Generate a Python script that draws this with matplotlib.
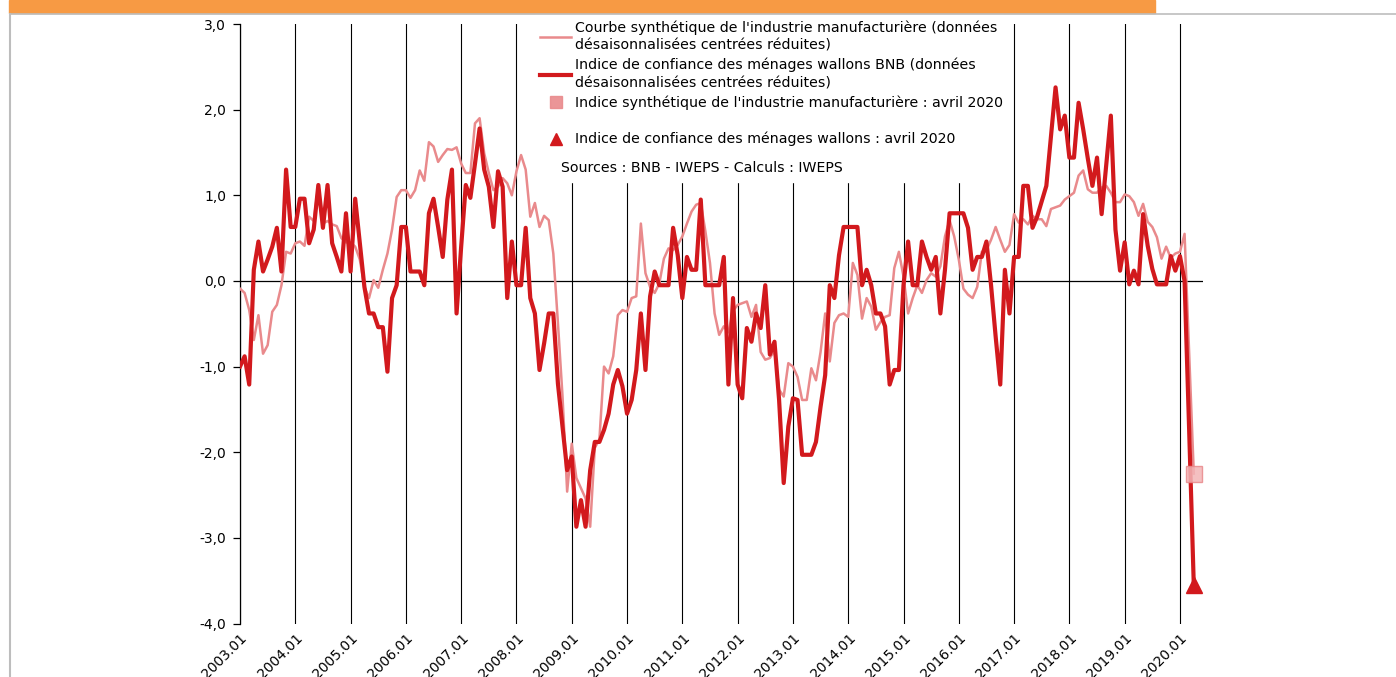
import numpy as np
import matplotlib
matplotlib.use("Agg")
import matplotlib.pyplot as plt
from matplotlib.lines import Line2D
from matplotlib.patches import Rectangle

# Donnees mensuelles 2003.01 -> 2020.04
industrie = [
    -0.09, -0.14, -0.34, -0.69, -0.40, -0.85, -0.75, -0.36, -0.28, -0.05, 0.34, 0.32,
    0.44, 0.46, 0.41, 0.75, 0.70, 1.12, 0.67, 0.70, 0.66, 0.64, 0.50, 0.45,
    0.45, 0.40, 0.25, -0.07, -0.20, 0.01, -0.08, 0.13, 0.32, 0.60, 0.98, 1.06,
    1.06, 0.97, 1.06, 1.29, 1.17, 1.62, 1.57, 1.39, 1.47, 1.54, 1.53, 1.56,
    1.37, 1.26, 1.26, 1.84, 1.90, 1.49, 1.26, 1.06, 1.10, 1.20, 1.14, 1.00,
    1.28, 1.47, 1.30, 0.75, 0.91, 0.63, 0.76, 0.71, 0.32, -0.49, -1.35, -2.46,
    -1.90, -2.30, -2.42, -2.54, -2.87, -1.95, -1.85, -1.00, -1.08, -0.88, -0.40, -0.34,
    -0.36, -0.20, -0.18, 0.67, 0.09, -0.07, -0.14, -0.03, 0.26, 0.38, 0.36, 0.42,
    0.52, 0.67, 0.81, 0.89, 0.91, 0.58, 0.21, -0.38, -0.63, -0.53, -0.60, -0.35,
    -0.28, -0.26, -0.24, -0.42, -0.28, -0.83, -0.92, -0.90, -0.81, -1.27, -1.35, -0.96,
    -1.00, -1.12, -1.39, -1.39, -1.02, -1.16, -0.83, -0.38, -0.94, -0.49, -0.40, -0.38,
    -0.42, 0.21, 0.07, -0.44, -0.20, -0.30, -0.57, -0.48, -0.42, -0.40, 0.15, 0.34,
    0.05, -0.38, -0.20, -0.05, -0.14, 0.01, 0.09, 0.05, 0.17, 0.52, 0.71, 0.52,
    0.25, -0.09, -0.16, -0.20, -0.07, 0.34, 0.36, 0.48, 0.63, 0.48, 0.34, 0.42,
    0.78, 0.68, 0.72, 0.66, 0.76, 0.72, 0.72, 0.64, 0.84, 0.86, 0.88, 0.95,
    0.99, 1.03, 1.23, 1.29, 1.07, 1.03, 1.03, 1.09, 1.11, 1.03, 0.92, 0.92,
    1.01, 0.99, 0.92, 0.76, 0.90, 0.69, 0.63, 0.51, 0.26, 0.40, 0.27, 0.32,
    0.34, 0.55, -0.85, -2.25,
]
menages = [
    -1.00, -0.88, -1.21, 0.13, 0.46, 0.11, 0.25, 0.40, 0.62, 0.11, 1.30, 0.63,
    0.63, 0.96, 0.96, 0.44, 0.60, 1.12, 0.62, 1.12, 0.44, 0.28, 0.11, 0.79,
    0.11, 0.96, 0.44, -0.07, -0.38, -0.38, -0.54, -0.54, -1.06, -0.20, -0.05, 0.63,
    0.63, 0.11, 0.11, 0.11, -0.05, 0.79, 0.96, 0.63, 0.28, 0.95, 1.30, -0.38,
    0.40, 1.12, 0.97, 1.37, 1.78, 1.30, 1.10, 0.63, 1.28, 1.10, -0.20, 0.46,
    -0.05, -0.05, 0.62, -0.20, -0.38, -1.04, -0.73, -0.38, -0.38, -1.20, -1.70, -2.21,
    -2.05, -2.87, -2.56, -2.87, -2.21, -1.88, -1.88, -1.74, -1.55, -1.21, -1.04, -1.23,
    -1.55, -1.39, -1.04, -0.38, -1.04, -0.18, 0.11, -0.05, -0.05, -0.05, 0.62, 0.30,
    -0.20, 0.28, 0.13, 0.13, 0.95, -0.05, -0.05, -0.05, -0.05, 0.28, -1.21, -0.20,
    -1.21, -1.37, -0.55, -0.71, -0.38, -0.55, -0.05, -0.86, -0.71, -1.39, -2.36, -1.70,
    -1.37, -1.39, -2.03, -2.03, -2.03, -1.88, -1.47, -1.10, -0.05, -0.20, 0.30, 0.63,
    0.63, 0.63, 0.63, -0.05, 0.13, -0.05, -0.38, -0.38, -0.53, -1.21, -1.04, -1.04,
    -0.05, 0.46, -0.05, -0.05, 0.46, 0.28, 0.13, 0.28, -0.38, 0.13, 0.79, 0.79,
    0.79, 0.79, 0.62, 0.13, 0.28, 0.28, 0.46, -0.05, -0.65, -1.21, 0.13, -0.38,
    0.28, 0.28, 1.11, 1.11, 0.62, 0.75, 0.93, 1.11, 1.69, 2.26, 1.77, 1.93,
    1.44, 1.44, 2.08, 1.77, 1.43, 1.11, 1.44, 0.78, 1.35, 1.93, 0.60, 0.12,
    0.45, -0.04, 0.12, -0.04, 0.78, 0.41, 0.14, -0.04, -0.04, -0.04, 0.29, 0.12,
    0.29, 0.00, -1.75, -3.55,
]
annees = list(range(2003, 2021))
yticks = [3, 2, 1, 0, -1, -2, -3, -4]

lab_ind = "Courbe synthétique de l'industrie manufacturière (données\ndésaisonnalisées centrées réduites)"
lab_men = "Indice de confiance des ménages wallons BNB (données\ndésaisonnalisées centrées réduites)"
lab_sq = "Indice synthétique de l'industrie manufacturière : avril 2020"
lab_tri = "Indice de confiance des ménages wallons : avril 2020"
source = "Sources : BNB - IWEPS - Calculs : IWEPS"

c_clair = '#E98A8C'
c_fonce = '#D2191D'

plt.rcParams['font.family'] = ['DejaVu Sans']

W, H = 1396, 677
fig = plt.figure(figsize=(W / 100, H / 100), dpi=100)
ax = fig.add_axes([240 / W, 1 - 623.5 / H, 963 / W, 599.5 / H])

x = np.arange(len(menages))
ax.plot(x, industrie, color=c_clair, lw=1.8, zorder=3)
ax.plot(x, menages, color=c_fonce, lw=3.0, zorder=4)
ax.plot(x[-1], industrie[-1], 's', ms=11, mfc='#F3B5B7', mec=c_clair, alpha=0.85, zorder=5)
ax.plot(x[-1], menages[-1], '^', ms=12, color=c_fonce, zorder=5)

ax.axhline(0, color='black', lw=0.9, zorder=2)
ax.set_xlim(0, 209)
ax.set_ylim(-4, 3)

ax.set_xticks([12 * i for i in range(len(annees))])
ax.set_xticklabels([f"{a}.01" for a in annees], rotation=45, ha='right', va='top',
                   rotation_mode='anchor', fontsize=10)
ax.tick_params(axis='x', length=0, pad=5)
ax.grid(axis='x', color='black', lw=0.8)
ax.set_yticks(yticks)
ax.set_yticklabels([f"{v:.1f}".replace('.', ',') for v in yticks], fontsize=10)
ax.tick_params(axis='y', length=5, width=0.9, pad=5)
for s in ['top', 'right', 'bottom']:
    ax.spines[s].set_visible(False)
ax.spines['left'].set_linewidth(0.9)

# bandeau et bordures
fig.patches.append(Rectangle((9 / W, 1 - 13 / H), 1146 / W, 13 / H, transform=fig.transFigure,
                             color='#F79A44', zorder=1))
fig.lines.append(Line2D([10 / W, 1], [1 - 13.5 / H] * 2, transform=fig.transFigure,
                        color='#BDBDBD', lw=1.2))
fig.lines.append(Line2D([10 / W] * 2, [0, 1 - 13.5 / H], transform=fig.transFigure,
                        color='#BDBDBD', lw=1.5))
# fond blanc de la legende
fig.patches.append(Rectangle((535 / W, 1 - 182 / H), 468 / W, 167 / H, transform=fig.transFigure,
                             color='white', zorder=1))

h1 = [Line2D([], [], color=c_clair, lw=1.8),
      Line2D([], [], color=c_fonce, lw=3.0),
      Line2D([], [], ls='none', marker='s', ms=8, mfc='#E98A8C', mec='#E98A8C', alpha=0.9)]
leg1 = fig.legend(h1, [lab_ind, lab_men, lab_sq], loc='upper left',
                  bbox_to_anchor=(540 / W, 1 - 20 / H), frameon=False, fontsize=10.2,
                  handlelength=2.2, handletextpad=0.25, borderpad=0, borderaxespad=0,
                  labelspacing=0.35)
for t in leg1.get_texts():
    t.set_linespacing(1.4)
h2 = [Line2D([], [], ls='none', marker='^', ms=8, color=c_fonce)]
leg2 = fig.legend(h2, [lab_tri], loc='upper left',
                  bbox_to_anchor=(540 / W, 1 - 132 / H), frameon=False, fontsize=10.2,
                  handlelength=2.2, handletextpad=0.25, borderpad=0, borderaxespad=0)
fig.text(561 / W, 1 - 168 / H, source, fontsize=10.2, va='center', ha='left')

fig.savefig('out.png', dpi=100)
